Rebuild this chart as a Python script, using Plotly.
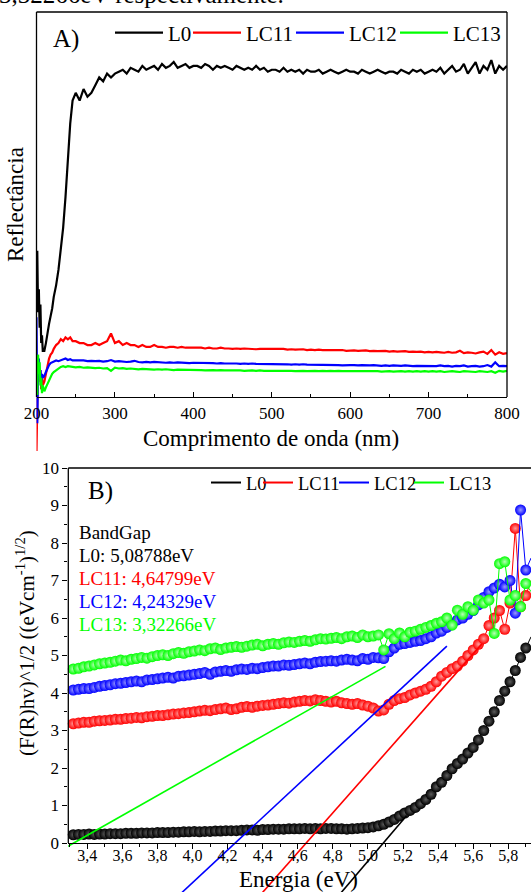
import plotly.graph_objects as go

# ---------------- DATA ----------------
# Panel A: reflectance spectra (arbitrary units, 0 = axis baseline)
wavelength = [200, 201, 202, 203, 204, 205, 206, 207, 208,
              210, 212, 214, 216, 218, 220, 222,
              225, 228, 231, 234, 237, 240, 243, 246,
              250, 255, 260, 265, 270, 275, 280, 285, 290, 295, 300,
              305, 310, 315, 320, 325, 330, 335, 340, 345, 350, 355, 360, 365, 370, 375, 380, 385, 390, 395, 400,
              405, 410, 415, 420, 425, 430, 435, 440, 445, 450, 455, 460, 465, 470, 475, 480, 485, 490, 495, 500,
              505, 510, 515, 520, 525, 530, 535, 540, 545, 550, 555, 560, 565, 570, 575, 580, 585, 590, 595, 600,
              605, 610, 615, 620, 625, 630, 635, 640, 645, 650, 655, 660, 665, 670, 675, 680, 685, 690, 695, 700,
              705, 710, 715, 720, 725, 730, 735, 740, 745, 750, 755, 760, 765, 770, 775, 780, 785, 790, 795, 800]

refl_L0 = [30, 38, 22, 28, 18, 24, 14, 16, 12,
           12, 14, 17, 19, 21, 23, 26,
           29, 33, 38, 44, 52, 62, 71, 77,
           79, 77, 80, 78, 79, 81, 83, 82, 84, 83, 84,
           84.5, 85, 84, 85.5, 85, 84.5, 86, 85, 85.5, 86, 85, 86.5, 85.5, 86, 87, 85.5, 86, 86.5, 85.5, 86,
           86, 85.5, 86.5, 86, 85, 86, 85.5, 86, 85.5, 85, 86, 85.5, 85, 85.5, 85, 86, 85, 85.5, 84.5, 85,
           85, 84.5, 85.5, 84.5, 85, 84.5, 85, 84, 85, 84.5, 84.5, 85, 84, 84.5, 85, 84.5, 84, 84.5, 85, 84.5,
           84.5, 84, 85, 84.5, 84, 84.5, 85, 84.5, 84, 84.5, 84.5, 84, 85, 84.5, 84, 85, 84.5, 85, 84, 84.5,
           85, 84.5, 85.5, 84, 85, 86, 84.5, 85, 86.5, 84, 85.5, 87, 84, 86, 85, 87.5, 84, 86, 85, 86]

refl_LC11 = [-14, 3, 10, 6, 4, 7, 2, 5, 3,
             4, 6, 8, 10, 11, 11.5, 12.5,
             13.5, 14, 15, 14.5, 15.5, 15, 15.5, 14.5,
             14.5, 14, 14, 13.5, 13.5, 14, 13.5, 14, 14.5, 16.5, 14,
             14.5, 13.5, 14, 13.5, 13.5, 13, 13.5, 13, 13, 13.5, 13, 13, 12.8, 13, 13, 12.8, 13, 12.8, 12.8, 12.8,
             12.8, 12.8, 12.6, 12.8, 12.6, 12.6, 12.8, 12.6, 12.6, 12.5, 12.6, 12.5, 12.6, 12.5, 12.5, 12.4, 12.5, 12.5, 12.4, 12.5,
             12.4, 12.4, 12.5, 12.3, 12.4, 12.3, 12.3, 12.4, 12.2, 12.3, 12.2, 12.3, 12.2, 12.2, 12.1, 12.2, 12.1, 12.2, 12.0, 12.1,
             12.1, 12.0, 12.0, 12.1, 11.9, 12.0, 11.9, 11.9, 12.0, 11.8, 11.9, 11.8, 11.8, 11.9, 11.7, 11.8, 11.7, 11.8, 11.6, 11.7,
             11.6, 11.7, 11.6, 11.5, 11.7, 11.5, 11.6, 12.0, 11.4, 11.6, 11.5, 11.3, 11.6, 11.8, 11.2, 12.2, 11.0, 11.6, 11.2, 11.4]

refl_LC12 = [20.7, -6.8, 8, 10, 6, 7, 4, 6, 5,
             5.5, 6.5, 7.5, 8.3, 8.8, 9, 9.3,
             9.5, 9.3, 9.6, 9.8, 10, 9.6, 9.8, 9.5,
             9.5, 9.4, 9.5, 9.3, 9.4, 9.3, 9.4, 9.2, 9.3, 9.6, 9.2,
             9.3, 9.2, 9.1, 9.2, 9.4, 9.1, 9.0, 9.1, 9.0, 9.1, 9.0, 9.0, 8.9, 9.0, 8.9, 9.0, 8.9, 8.9, 8.8, 8.9,
             8.9, 8.8, 8.8, 8.9, 8.8, 8.7, 8.8, 8.7, 8.7, 8.8, 8.7, 8.6, 8.7, 8.6, 8.7, 8.6, 8.6, 8.5, 8.6, 8.6,
             8.5, 8.6, 8.5, 8.5, 8.4, 8.5, 8.4, 8.5, 8.4, 8.4, 8.3, 8.4, 8.4, 8.3, 8.4, 8.3, 8.3, 8.2, 8.3, 8.3,
             8.3, 8.2, 8.3, 8.2, 8.2, 8.3, 8.2, 8.1, 8.2, 8.1, 8.2, 8.1, 8.1, 8.2, 8.1, 8.0, 8.1, 8.1, 8.0, 8.1,
             8.1, 8.0, 8.2, 8.0, 8.1, 7.9, 8.1, 8.0, 8.2, 7.9, 8.0, 8.1, 7.9, 8.0, 8.3, 7.9, 9.0, 8.0, 8.1, 8.0]

refl_LC13 = [9.6, 0.5, 11, 6, 9, 3, 5, 1, 3,
             1.5, 2.5, 3.5, 4.5, 5.5, 6, 6.5,
             7, 7.5, 7.8, 8, 7.8, 8, 7.9, 7.8,
             7.7, 7.8, 7.6, 7.7, 7.6, 7.5, 7.6, 7.4, 7.5, 6.8, 7.6,
             7.4, 7.5, 7.3, 7.4, 7.3, 7.2, 7.3, 7.2, 7.2, 7.1, 7.2, 7.1, 7.2, 7.1, 7.0, 7.1, 7.1, 7.0, 7.1, 7.0,
             7.0, 7.0, 6.9, 7.0, 7.0, 6.9, 7.0, 6.9, 6.9, 7.0, 6.9, 6.9, 6.8, 6.9, 6.9, 6.8, 6.9, 6.8, 6.8, 6.9,
             6.8, 6.9, 6.8, 6.8, 6.8, 6.7, 6.8, 6.8, 6.7, 6.8, 6.8, 6.7, 6.8, 6.7, 6.8, 6.7, 6.8, 6.7, 6.7, 6.8,
             6.7, 6.8, 6.7, 6.7, 6.8, 6.7, 6.7, 6.6, 6.7, 6.7, 6.6, 6.7, 6.7, 6.6, 6.7, 6.6, 6.7, 6.6, 6.7, 6.6,
             6.7, 6.6, 6.7, 6.5, 6.6, 6.7, 6.6, 6.5, 6.7, 6.6, 6.6, 6.5, 6.7, 6.6, 6.5, 6.7, 6.3, 6.8, 6.6, 6.8]

# Panel B: Tauc plot (F(R)hv)^1/2 vs energy
energy = [3.29, 3.32, 3.35, 3.38, 3.41, 3.44, 3.47, 3.50, 3.53, 3.56,
          3.59, 3.62, 3.65, 3.68, 3.71, 3.74, 3.77, 3.80, 3.83, 3.86,
          3.89, 3.92, 3.95, 3.98, 4.01, 4.04, 4.07, 4.10, 4.13, 4.16,
          4.19, 4.22, 4.25, 4.28, 4.31, 4.34, 4.37, 4.40, 4.43, 4.46,
          4.49, 4.52, 4.55, 4.58, 4.61, 4.64, 4.67, 4.70, 4.73, 4.76,
          4.79, 4.82, 4.85, 4.88, 4.91, 4.94, 4.97, 5.00, 5.03, 5.06,
          5.09, 5.12, 5.15, 5.18, 5.21, 5.24, 5.27, 5.30, 5.33, 5.36,
          5.39, 5.42, 5.45, 5.48, 5.51, 5.54, 5.57, 5.60, 5.63, 5.66,
          5.69, 5.72, 5.75, 5.78, 5.81, 5.84, 5.87, 5.90, 5.93]

tauc_L0 = [0.22, 0.22, 0.23, 0.23, 0.24, 0.23, 0.24, 0.24, 0.25, 0.25,
           0.25, 0.26, 0.26, 0.26, 0.27, 0.27, 0.27, 0.28, 0.28, 0.28,
           0.29, 0.29, 0.30, 0.30, 0.31, 0.30, 0.31, 0.31, 0.32, 0.32,
           0.33, 0.33, 0.33, 0.34, 0.35, 0.35, 0.34, 0.36, 0.36, 0.37,
           0.37, 0.37, 0.38, 0.38, 0.38, 0.39, 0.38, 0.39, 0.38, 0.39,
           0.39, 0.38, 0.38, 0.37, 0.38, 0.39, 0.40, 0.41, 0.43, 0.46,
           0.50, 0.56, 0.63, 0.72, 0.80, 0.87, 0.95, 1.05, 1.16, 1.30,
           1.50, 1.62, 1.80, 1.98, 2.12, 2.24, 2.40, 2.55, 2.75, 3.00,
           3.25, 3.50, 3.80, 4.05, 4.30, 4.60, 4.95, 5.20, 5.50]

tauc_LC11 = [3.15, 3.18, 3.20, 3.22, 3.22, 3.25, 3.26, 3.27, 3.28, 3.30,
             3.30, 3.32, 3.33, 3.35, 3.34, 3.37, 3.38, 3.40, 3.40, 3.42,
             3.44, 3.45, 3.47, 3.48, 3.50, 3.52, 3.54, 3.53, 3.56, 3.58,
             3.60, 3.56, 3.58, 3.62, 3.64, 3.62, 3.65, 3.67, 3.68, 3.70,
             3.72, 3.74, 3.73, 3.76, 3.78, 3.80, 3.79, 3.82, 3.80, 3.78,
             3.76, 3.78, 3.74, 3.72, 3.70, 3.72, 3.68, 3.65, 3.60, 3.52,
             3.55, 3.70, 3.80, 3.85, 3.88, 3.95, 4.00, 4.05, 4.10, 4.18,
             4.30, 4.45, 4.55, 4.65, 4.72, 4.85, 5.00, 5.15, 5.30, 5.45,
             5.80, 6.00, 6.20, 5.70, 6.40, 8.39, 6.30, 6.60, 7.00]

tauc_LC12 = [4.05, 4.08, 4.10, 4.12, 4.12, 4.15, 4.18, 4.20, 4.22, 4.25,
             4.26, 4.28, 4.30, 4.32, 4.30, 4.35, 4.36, 4.38, 4.40, 4.42,
             4.40, 4.45, 4.46, 4.48, 4.50, 4.52, 4.55, 4.50, 4.56, 4.58,
             4.60, 4.58, 4.62, 4.64, 4.63, 4.66, 4.65, 4.68, 4.70, 4.72,
             4.72, 4.75, 4.74, 4.76, 4.78, 4.80, 4.78, 4.82, 4.84, 4.85,
             4.86, 4.85, 4.88, 4.90, 4.88, 4.86, 4.92, 4.90, 4.95, 4.94,
             4.92, 5.10, 5.20, 5.30, 5.32, 5.35, 5.38, 5.40, 5.45, 5.50,
             5.60, 5.65, 5.75, 5.85, 5.95, 6.00, 6.10, 6.20, 6.35, 6.55,
             6.70, 6.80, 6.90, 6.83, 7.00, 6.13, 8.88, 7.28, 7.60]

tauc_LC13 = [4.61, 4.64, 4.66, 4.70, 4.72, 4.75, 4.78, 4.80, 4.82, 4.85,
             4.88, 4.86, 4.90, 4.92, 4.95, 4.93, 4.97, 5.00, 5.02, 5.00,
             5.05, 5.08, 5.06, 5.10, 5.12, 5.15, 5.13, 5.18, 5.20, 5.16,
             5.20, 5.22, 5.24, 5.22, 5.25, 5.28, 5.30, 5.26, 5.30, 5.32,
             5.30, 5.34, 5.36, 5.35, 5.38, 5.40, 5.38, 5.42, 5.45, 5.44,
             5.46, 5.48, 5.45, 5.50, 5.52, 5.48, 5.55, 5.50, 5.52, 5.55,
             5.15, 5.58, 5.45, 5.60, 5.50, 5.62, 5.65, 5.70, 5.75, 5.80,
             5.86, 5.90, 6.00, 5.81, 6.21, 6.10, 6.30, 6.21, 6.48, 6.40,
             6.48, 5.59, 7.45, 7.50, 6.48, 6.60, 6.30, 6.92, 6.70]

series_names = ["L0", "LC11", "LC12", "LC13"]
series_colors = ["#000000", "#ff0000", "#0000ff", "#00ff00"]
marker_highlight = ["#5c5c5c", "#ff9a9a", "#9a9aff", "#b8ffb8"]

# Linear (Tauc) fits: band gap (x-intercept), slope, upper energy of the fit line
bandgap_eV = [5.08788, 4.64799, 4.24329, 3.32266]
fit_slope = [5.5, 5.3, 4.35, 2.65]
fit_end_eV = [5.22, 5.65, 5.45, 5.10]
bandgap_labels = ["L0: 5,08788eV", "LC11: 4,64799eV", "LC12: 4,24329eV", "LC13: 3,32266eV"]

# ---------------- LAYOUT HELPERS (pixel -> paper) ----------------
W, H = 531, 892
FONT = "Liberation Serif"


def xp(p):
    return p / W


def yp(p):
    return 1 - p / H


def f(size, color="black"):
    return dict(family=FONT, size=size, color=color)


# Panel A geometry (pixels)
A_L, A_R, A_T, A_AX, A_B = 36.5, 507, 12, 397, 455
A_top_val = 100.0
A_min_val = -(A_B - A_AX) / (A_AX - A_T) * A_top_val
# Panel B geometry (pixels)
B_L, B_T, B_AX, B_B = 68.3, 468, 843, 892
B_xrange = [3.2917, 5.9296]
B_top_val = 10.0
B_min_val = -(B_B - B_AX) / (B_AX - B_T) * B_top_val

# legend placement (pixel x of the start of each legend line)
legA_x = [115, 193, 296, 400]
legB_x = [211, 263, 339, 414]
legA_names = ["legend", "legend2", "legend3", "legend4"]
legB_names = ["legend5", "legend6", "legend7", "legend8"]

fig = go.Figure()

# Panel A traces
refl_series = [refl_L0, refl_LC11, refl_LC12, refl_LC13]
for name, col, ys, lg in zip(series_names, series_colors, refl_series, legA_names):
    fig.add_trace(go.Scatter(x=wavelength, y=ys, mode="lines", name=name,
                             line=dict(color=col, width=2.2),
                             xaxis="x", yaxis="y", legend=lg))

# Panel B traces
tauc_series = [tauc_L0, tauc_LC11, tauc_LC12, tauc_LC13]
for name, col, hl, ys in zip(series_names, series_colors, marker_highlight, tauc_series):
    fig.add_trace(go.Scatter(x=energy, y=ys, mode="lines+markers", name=name,
                             line=dict(color=col, width=1),
                             marker=dict(size=11, color=col, line=dict(width=0),
                                         gradient=dict(type="radial", color=hl)),
                             cliponaxis=False, showlegend=False,
                             xaxis="x2", yaxis="y2"))

# Fit lines
for col, eg, s, e_end in zip(series_colors, bandgap_eV, fit_slope, fit_end_eV):
    e0 = eg - 1.5 / s
    fig.add_trace(go.Scatter(x=[e0, e_end], y=[s * (e0 - eg), s * (e_end - eg)],
                             mode="lines", line=dict(color=col, width=1.6),
                             showlegend=False, hoverinfo="skip",
                             xaxis="x2", yaxis="y2"))

# Legend entries for panel B (line only)
for name, col, lg in zip(series_names, series_colors, legB_names):
    fig.add_trace(go.Scatter(x=[None], y=[None], mode="lines", name=name,
                             line=dict(color=col, width=2),
                             xaxis="x2", yaxis="y2", legend=lg))

line_kw = dict(color="black", width=1.3)
shapes = [
    # Panel A frame
    dict(type="line", xref="paper", yref="paper", x0=xp(A_L), x1=xp(A_L), y0=yp(A_AX), y1=yp(A_T), line=line_kw),
    dict(type="line", xref="paper", yref="paper", x0=xp(A_R), x1=xp(A_R), y0=yp(A_AX), y1=yp(A_T), line=line_kw),
    dict(type="line", xref="paper", yref="paper", x0=xp(A_L), x1=xp(A_R), y0=yp(A_T), y1=yp(A_T), line=line_kw),
    # Panel B frame
    dict(type="line", xref="paper", yref="paper", x0=xp(B_L), x1=xp(B_L), y0=yp(B_AX), y1=yp(B_T), line=line_kw),
    dict(type="line", xref="paper", yref="paper", x0=xp(B_L), x1=1, y0=yp(B_T), y1=yp(B_T), line=line_kw),
]

annotations = [
    dict(text="3,32266eV respectivamente.", x=xp(-3), y=yp(10), xanchor="left", yanchor="bottom", font=f(25)),
    dict(text="A)", x=xp(51), y=yp(39), xanchor="left", yanchor="middle", font=f(25)),
    dict(text="B)", x=xp(86), y=yp(491), xanchor="left", yanchor="middle", font=f(25)),
    dict(text="Comprimento de onda (nm)", x=xp(271), y=yp(438), xanchor="center", yanchor="middle", font=f(23)),
    dict(text="Reflectância", x=xp(15), y=yp(205), xanchor="center", yanchor="middle", textangle=-90,
         font=f(23)),
    dict(text="Energia (eV)", x=xp(298), y=yp(879), xanchor="center", yanchor="middle", font=f(23)),
    dict(text="(F(R)hv)^1/2 ((eVcm<sup>-1</sup>)<sup>1/2</sup>)", x=xp(25), y=yp(643),
         xanchor="center", yanchor="middle", textangle=-90, font=f(21)),
    dict(text="BandGap", x=xp(77), y=yp(532), xanchor="left", yanchor="middle", font=f(19)),
]
for i, (lab, col) in enumerate(zip(bandgap_labels, series_colors)):
    annotations.append(dict(text=lab, x=xp(77), y=yp(555 + 23.3 * i), xanchor="left", yanchor="middle",
                            font=f(19, col)))
for a in annotations:
    a["showarrow"] = False
    a["xref"] = "paper"
    a["yref"] = "paper"

legends = {}
for lg, xs in zip(legA_names, legA_x):
    legends[lg] = dict(orientation="h", x=xp(xs - 5), y=yp(33), xanchor="left", yanchor="middle",
                       font=f(21), bgcolor="rgba(0,0,0,0)", itemwidth=48, borderwidth=0)
for lg, xs in zip(legB_names, legB_x):
    legends[lg] = dict(orientation="h", x=xp(xs - 5), y=yp(483), xanchor="left", yanchor="middle",
                       font=f(18.5), bgcolor="rgba(0,0,0,0)", itemwidth=30, borderwidth=0)

fig.update_layout(
    width=W, height=H,
    margin=dict(l=0, r=0, t=0, b=0, pad=0, autoexpand=False),
    paper_bgcolor="white", plot_bgcolor="rgba(0,0,0,0)",
    font=f(17),
    separators=",.",
    xaxis=dict(domain=[xp(A_L), xp(A_R)], range=[200, 800], anchor="free", position=yp(A_AX),
               showline=True, linecolor="black", linewidth=1.3, automargin=False,
               ticks="inside", ticklen=5, tickwidth=1.2, tickcolor="black",
               tick0=200, dtick=100, tickfont=f(17),
               minor=dict(dtick=50, ticks="inside", ticklen=3, tickwidth=1, tickcolor="black"),
               showgrid=False, zeroline=False),
    yaxis=dict(domain=[yp(A_B), yp(A_T)], range=[A_min_val, A_top_val], anchor="x", automargin=False,
               visible=False, showgrid=False, zeroline=False),
    xaxis2=dict(domain=[xp(B_L), 1], range=B_xrange, anchor="free", position=yp(B_AX),
                showline=True, linecolor="black", linewidth=1.3, automargin=False,
                ticks="outside", ticklen=5, tickwidth=1.2, tickcolor="black",
                tick0=3.4, dtick=0.2, tickformat=".1f", tickfont=f(16), ticklabelstandoff=-7,
                minor=dict(dtick=0.1, ticks="outside", ticklen=3, tickwidth=1, tickcolor="black"),
                showgrid=False, zeroline=False),
    yaxis2=dict(domain=[0, yp(B_T)], range=[B_min_val, B_top_val], anchor="x2", automargin=False,
                showline=False, ticks="outside", ticklen=5, tickwidth=1.2, tickcolor="black",
                tickmode="array", tickvals=list(range(0, 11)), tickfont=f(17),
                minor=dict(tickmode="array", tickvals=[v + 0.5 for v in range(0, 10)],
                           ticks="outside", ticklen=3, tickwidth=1, tickcolor="black"),
                showgrid=False, zeroline=False),
    shapes=shapes,
    annotations=annotations,
    **legends,
)

fig.write_html("out.html", post_script="document.body.style.margin='0';")
